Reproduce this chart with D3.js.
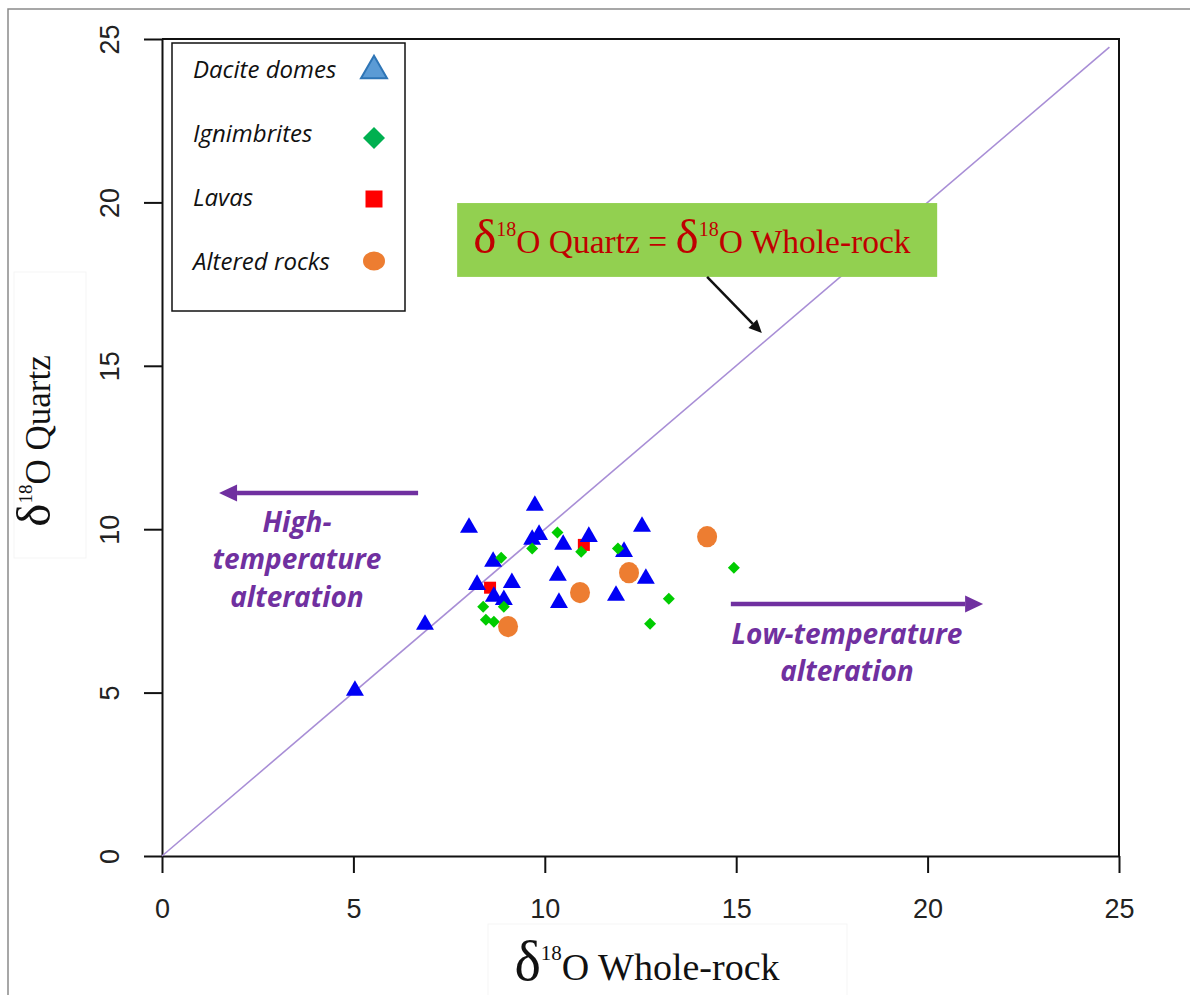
<!DOCTYPE html>
<html>
<head>
<meta charset="utf-8">
<script src="https://cdn.jsdelivr.net/npm/d3@7"></script>
<style>
  body { margin: 0; background: #fff; }
  svg { display: block; }
</style>
</head>
<body>
<script>
// ---- data: δ18O whole-rock (x) vs δ18O quartz (y), ‰ ----
const xTicks = [0, 5, 10, 15, 20, 25];
const yTicks = [0, 5, 10, 15, 20, 25];

const daciteDomes = [
  [5.04, 5.06], [6.87, 7.08], [8.02, 10.05], [8.23, 8.30], [8.65, 9.01],
  [9.14, 8.36], [8.67, 7.94], [8.93, 7.84], [9.74, 10.72], [9.67, 9.68],
  [9.85, 9.83], [10.48, 9.53], [11.15, 9.77], [12.54, 10.08], [12.07, 9.31],
  [10.34, 8.58], [12.64, 8.49], [10.37, 7.75], [11.86, 7.97]
];
const ignimbrites = [
  [8.86, 9.13], [8.39, 7.63], [8.93, 7.63], [8.46, 7.23], [8.67, 7.17],
  [9.67, 9.41], [10.33, 9.90], [10.95, 9.31], [11.91, 9.41], [14.94, 8.82],
  [13.24, 7.87], [12.75, 7.11]
];
const lavas = [[8.57, 8.21], [11.02, 9.52]];
const alteredRocks = [[9.04, 7.02], [10.92, 8.06], [12.20, 8.67], [14.24, 9.77]];

const seriesNames = ["Dacite domes", "Ignimbrites", "Lavas", "Altered rocks"];

// 1:1 reference line end (both axes)
const equalityEnd = 24.75;

// annotation anchors in data units
const highArrow = { from: [6.69, 11.11], to: [1.49, 11.11] };
const lowArrow  = { from: [14.86, 7.71], to: [21.45, 7.71] };
const noteArrow = { from: [14.24, 17.72], to: [15.67, 16.0] };
const noteBox   = { x0: 7.71, x1: 20.25, y0: 17.72, y1: 19.98 };
const highText  = ["High-", "temperature", "alteration"];
const lowText   = ["Low-temperature", "alteration"];

// ---- layout ----
const W = 1190, H = 995;
const plot = { left: 162, right: 1119, top: 39, bottom: 856 };
const purple = "#7030A0";

const svg = d3.select("body").append("svg").attr("width", W).attr("height", H);

const x = d3.scaleLinear().domain([0, 25]).range([plot.left, plot.right]);
const y = d3.scaleLinear().domain([0, 25]).range([plot.bottom, plot.top]);

// page frame
svg.append("path")
  .attr("d", `M8,${H} V9 H${W}`)
  .attr("fill", "none").attr("stroke", "#8a8a8a").attr("stroke-width", 1.5);

// faint backing boxes of the axis titles
svg.append("rect").attr("x", 14).attr("y", 272).attr("width", 72).attr("height", 286)
  .attr("fill", "#fff").attr("stroke", "#f5f5f5");
svg.append("rect").attr("x", 488).attr("y", 924).attr("width", 359).attr("height", 80)
  .attr("fill", "#fff").attr("stroke", "#f5f5f5");

// plot frame (top and right sides)
svg.append("path")
  .attr("d", `M${x(0)},${y(25)} H${x(25)} V${y(0)}`)
  .attr("fill", "none").attr("stroke", "#111").attr("stroke-width", 2);

// axes
const tickFont = "'Liberation Sans', Arial, sans-serif";
const xAxis = svg.append("g")
  .attr("transform", `translate(0,${y(0)})`)
  .call(d3.axisBottom(x).tickValues(xTicks).tickSize(17).tickSizeOuter(0)
        .tickPadding(26).tickFormat(d3.format("d")));
const yAxis = svg.append("g")
  .attr("transform", `translate(${x(0)},0)`)
  .call(d3.axisLeft(y).tickValues(yTicks).tickSize(18).tickSizeOuter(0)
        .tickFormat(d3.format("d")));

[xAxis, yAxis].forEach(a => {
  a.select(".domain").attr("stroke", "#111").attr("stroke-width", 2);
  a.selectAll(".tick line").attr("stroke", "#111").attr("stroke-width", 2);
  a.selectAll(".tick text").attr("font-family", tickFont).attr("font-size", 27).attr("fill", "#222");
});
// y tick labels read upwards
yAxis.selectAll(".tick text")
  .attr("x", 0).attr("y", -52).attr("dy", "0.35em")
  .attr("text-anchor", "middle")
  .attr("transform", "rotate(-90)");

// 1:1 line
svg.append("line")
  .attr("x1", x(0)).attr("y1", y(0))
  .attr("x2", x(equalityEnd)).attr("y2", y(equalityEnd))
  .attr("stroke", "#A88ED6").attr("stroke-width", 1.6);

// ---- data marks ----
const triPath = d3.symbol(d3.symbolTriangle, 140)();
const diaPath = d3.symbol(d3.symbolSquare, 72)();
const sqPath  = d3.symbol(d3.symbolSquare, 144)();

svg.append("g").selectAll("path").data(lavas).join("path")
  .attr("d", sqPath)
  .attr("transform", d => `translate(${x(d[0])},${y(d[1])})`)
  .attr("fill", "#FF0000");

svg.append("g").selectAll("path").data(daciteDomes).join("path")
  .attr("d", triPath)
  .attr("transform", d => `translate(${x(d[0])},${y(d[1])})`)
  .attr("fill", "#0000F5");

svg.append("g").selectAll("path").data(ignimbrites).join("path")
  .attr("d", diaPath)
  .attr("transform", d => `translate(${x(d[0])},${y(d[1])}) rotate(45)`)
  .attr("fill", "#00CC00");

svg.append("g").selectAll("ellipse").data(alteredRocks).join("ellipse")
  .attr("cx", d => x(d[0])).attr("cy", d => y(d[1]))
  .attr("rx", 10).attr("ry", 10.6)
  .attr("fill", "#ED7D31");

// ---- δ18O labels ----
function deltaLabel(text, rest, fs, deltaFs, supFs, rise) {
  rest.forEach(part => {
    text.append("tspan").attr("font-size", deltaFs).text("δ");
    text.append("tspan").attr("font-size", supFs).attr("dy", -rise).text("18");
    text.append("tspan").attr("font-size", fs).attr("dy", rise).text(part);
  });
}
const serif = "'Liberation Serif', 'Times New Roman', serif";

// x-axis title
deltaLabel(
  svg.append("text").attr("x", 647).attr("y", 980)
    .attr("text-anchor", "middle").attr("font-family", serif).attr("fill", "#111"),
  ["O Whole-rock"], 38, 56, 21, 20);

// y-axis title
deltaLabel(
  svg.append("text").attr("transform", "translate(50,441) rotate(-90)")
    .attr("text-anchor", "middle").attr("font-family", serif).attr("fill", "#111"),
  ["O Quartz"], 35, 49, 19, 18);

// 1:1 line callout
svg.append("rect")
  .attr("x", x(noteBox.x0)).attr("y", y(noteBox.y1))
  .attr("width", x(noteBox.x1) - x(noteBox.x0)).attr("height", y(noteBox.y0) - y(noteBox.y1))
  .attr("fill", "#92D050");
deltaLabel(
  svg.append("text").attr("x", x(noteBox.x0) + 16).attr("y", y(noteBox.y0) - 24)
    .attr("font-family", serif).attr("fill", "#C00000"),
  ["O Quartz = ", "O Whole-rock"], 33.5, 49, 20, 17);

// ---- arrows ----
function arrow(a, color, width, headLen, headHalf) {
  const x1 = x(a.from[0]), y1 = y(a.from[1]), x2 = x(a.to[0]), y2 = y(a.to[1]);
  const ang = Math.atan2(y2 - y1, x2 - x1);
  const bx = x2 - headLen * Math.cos(ang), by = y2 - headLen * Math.sin(ang);
  svg.append("line").attr("x1", x1).attr("y1", y1).attr("x2", bx).attr("y2", by)
    .attr("stroke", color).attr("stroke-width", width);
  const px = -Math.sin(ang) * headHalf, py = Math.cos(ang) * headHalf;
  svg.append("path")
    .attr("d", `M${x2},${y2} L${bx + px},${by + py} L${bx - px},${by - py} Z`)
    .attr("fill", color);
}
arrow(highArrow, purple, 4.5, 18, 8.5);
arrow(lowArrow, purple, 4.5, 18, 8.5);
arrow(noteArrow, "#111", 2.5, 13, 6);

const noteFont = "'Open Sans', sans-serif";
function annotate(lines, cx, baseY, step) {
  svg.append("g").selectAll("text").data(lines).join("text")
    .attr("x", cx).attr("y", (d, i) => baseY + i * step)
    .attr("text-anchor", "middle")
    .attr("font-family", noteFont).attr("font-size", 28)
    .attr("font-weight", 700).attr("font-style", "italic")
    .attr("fill", purple)
    .text(d => d);
}
annotate(highText, 297, y(highArrow.from[1]) + 39, 37.5);
annotate(lowText, 847, y(lowArrow.from[1]) + 40, 37);

// ---- legend ----
const legend = svg.append("g").attr("transform", "translate(172,43)");
legend.append("rect").attr("width", 233).attr("height", 268)
  .attr("fill", "#fff").attr("stroke", "#111").attr("stroke-width", 1.5);

const legendSymbols = [
  { d: d3.symbol(d3.symbolTriangle, 293)(), fill: "#5B9BD5", stroke: "#2E75B6", rot: 0, dy: -7.3 },
  { d: d3.symbol(d3.symbolSquare, 242)(), fill: "#00B050", stroke: "none", rot: 45, dy: -4 },
  { d: d3.symbol(d3.symbolSquare, 289)(), fill: "#FF0000", stroke: "none", rot: 0, dy: -7 },
  { d: null, fill: "#ED7D31", stroke: "none", rot: 0, dy: -9 }
];
const rows = legend.selectAll("g.row").data(seriesNames).join("g")
  .attr("class", "row")
  .attr("transform", (d, i) => `translate(0,${35 + i * 64})`);
rows.append("text")
  .attr("x", 21).attr("y", 0)
  .attr("font-family", noteFont).attr("font-style", "italic").attr("font-size", 24)
  .attr("fill", "#111")
  .text(d => d);
rows.each(function (d, i) {
  const s = legendSymbols[i];
  const g = d3.select(this);
  if (s.d) {
    g.append("path").attr("d", s.d)
      .attr("transform", `translate(202,${s.dy}) rotate(${s.rot})`)
      .attr("fill", s.fill).attr("stroke", s.stroke).attr("stroke-width", 2);
  } else {
    g.append("ellipse").attr("cx", 202).attr("cy", s.dy).attr("rx", 11).attr("ry", 9.5)
      .attr("fill", s.fill);
  }
});
</script>
</body>
</html>
